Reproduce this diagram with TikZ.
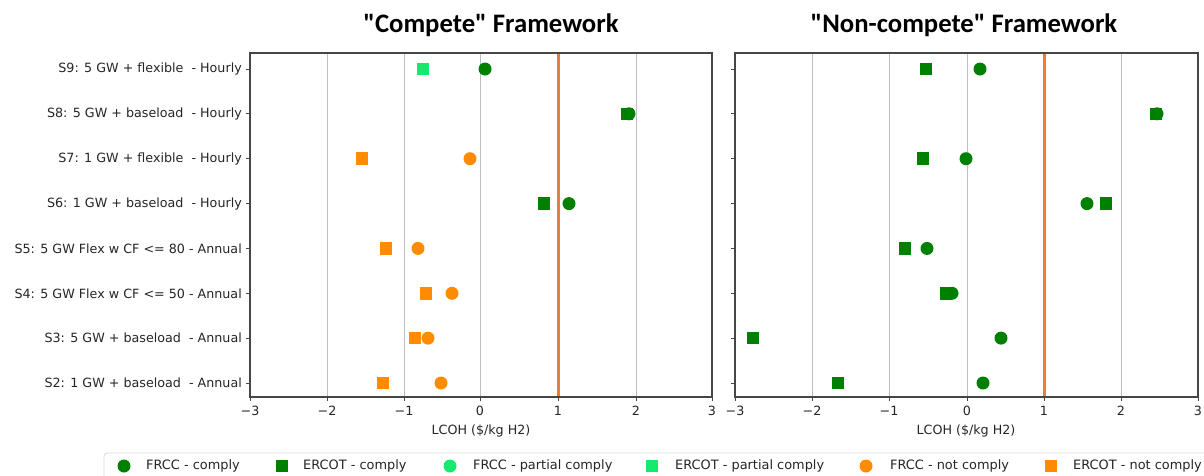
\documentclass[tikz,border=0pt]{standalone}
\usepackage{fontspec}
\setmainfont{DejaVu Sans}
\newfontfamily\titlefont{Carlito}
\definecolor{cgreen}{RGB}{0,128,0}
\definecolor{cpartial}{RGB}{20,235,110}
\definecolor{corange}{RGB}{255,140,0}
\definecolor{cline}{RGB}{237,125,49}
\definecolor{cgrid}{RGB}{190,190,190}
\definecolor{cspine}{RGB}{70,70,70}
\tikzset{
  mk/.style={inner sep=0pt, outer sep=0pt, draw=none},
  circ/.style={mk, circle, minimum size=13pt},
  sq/.style={mk, rectangle, minimum size=12.5pt},
  gc/.style={circ, fill=cgreen},
  gs/.style={sq, fill=cgreen},
  pc/.style={circ, fill=cpartial},
  ps/.style={sq, fill=cpartial},
  oc/.style={circ, fill=corange},
  os/.style={sq, fill=corange},
  gridline/.style={draw=cgrid, line width=1pt},
  spine/.style={draw=cspine, line width=1.1pt},
  tick/.style={draw=cspine, line width=0.9pt},
  ticklab/.style={font=\fontsize{12.7}{14}\selectfont, text=black!85, inner sep=0pt},
  ylab/.style={ticklab, anchor=east},
  xlab/.style={ticklab, anchor=north},
  refline/.style={draw=cline, line width=3pt},
  ttl/.style={font=\titlefont\bfseries\fontsize{26.7}{30}\selectfont, inner sep=0pt},
  legtext/.style={font=\fontsize{12.9}{15}\selectfont, text=black!85, anchor=west, inner sep=0pt},
}
\begin{document}
\begin{tikzpicture}[x=1pt, y=-1pt]
\useasboundingbox (0,0) rectangle (1204,475);
\fill[white] (0,0) rectangle (1204,475);

% titles
\node[ttl] (t1) at (491,25) {"Compete" Framework};
\node[ttl] (t2) at (964,25) {"Non-compete" Framework};

% ---------- left panel ----------
\foreach \x in {327,404,480,636} {\draw[gridline] (\x,53) -- (\x,397);}
\draw[refline] (558,53) -- (558,397);
% right panel grid
\foreach \x in {812,889,967,1121} {\draw[gridline] (\x,53) -- (\x,397);}
\draw[refline] (1044,53) -- (1044,397);

% y ticks & labels
\foreach \y/\lab in {69/{S9: 5 GW + flexible\ \ - Hourly},
                     113.8/{S8: 5 GW + baseload\ \ - Hourly},
                     158.7/{S7: 1 GW + flexible\ \ - Hourly},
                     203.6/{S6: 1 GW + baseload\ \ - Hourly},
                     248.4/{S5: 5 GW Flex w CF <= 80 - Annual},
                     293.3/{S4: 5 GW Flex w CF <= 50 - Annual},
                     338.1/{S3: 5 GW + baseload\ \ - Annual},
                     383/{S2: 1 GW + baseload\ \ - Annual}} {
  \draw[tick] (246,\y) -- (250,\y);
  \node[ylab] at (242,\y) {\lab};
  \draw[tick] (731,\y) -- (735,\y);
}

% x ticks & labels
\foreach \x/\lab in {250/−3,327/−2,404/−1,480/0,558/1,636/2,712/3} {
  \draw[tick] (\x,397) -- (\x,401);
  \node[xlab] at (\x,406) {\lab};
}
\foreach \x/\lab in {735/−3,812/−2,889/−1,967/0,1044/1,1121/2,1198/3} {
  \draw[tick] (\x,397) -- (\x,401);
  \node[xlab] at (\x,406) {\lab};
}
\node[xlab] (xl1) at (481,425) {LCOH (\$/kg H2)};
\node[xlab] (xl2) at (966,425) {LCOH (\$/kg H2)};

% ---------- left data ----------
\node[gc] (L9c) at (485,69) {};
\node[ps] (L9s) at (423,69) {};
\node[gc] (L8c) at (629,113.8) {};
\node[gs] (L8s) at (627,113.8) {};
\node[oc] (L7c) at (470,158.7) {};
\node[os] (L7s) at (362,158.7) {};
\node[gc] (L6c) at (569,203.6) {};
\node[gs] (L6s) at (544,203.6) {};
\node[oc] (L5c) at (418,248.4) {};
\node[os] (L5s) at (386,248.4) {};
\node[oc] (L4c) at (452,293.3) {};
\node[os] (L4s) at (426,293.3) {};
\node[oc] (L3c) at (428,338.1) {};
\node[os] (L3s) at (415,338.1) {};
\node[oc] (L2c) at (441,383) {};
\node[os] (L2s) at (383,383) {};

% ---------- right data ----------
\node[gc] (R9c) at (980,69) {};
\node[gs] (R9s) at (926,69) {};
\node[gc] (R8c) at (1157,113.8) {};
\node[gs] (R8s) at (1156,113.8) {};
\node[gc] (R7c) at (966,158.7) {};
\node[gs] (R7s) at (923,158.7) {};
\node[gc] (R6c) at (1087,203.6) {};
\node[gs] (R6s) at (1106,203.6) {};
\node[gc] (R5c) at (927,248.4) {};
\node[gs] (R5s) at (905,248.4) {};
\node[gc] (R4c) at (952,293.3) {};
\node[gs] (R4s) at (946,293.3) {};
\node[gc] (R3c) at (1001,338.1) {};
\node[gs] (R3s) at (753,338.1) {};
\node[gc] (R2c) at (983,383) {};
\node[gs] (R2s) at (838,383) {};

% spines
\draw[spine] (250,53) rectangle (712,397);
\draw[spine] (735,53) rectangle (1198,397);

% legend
\draw[draw=black!15, line width=0.8pt, rounded corners=3pt, fill=white] (104,453) rectangle (1215,490);
\node[gc] (k1) at (124,466) {};
\node[legtext] (k1t) at (146,466) {FRCC - comply};
\node[gs] (k2) at (282,466) {};
\node[legtext] (k2t) at (303,466) {ERCOT - comply};
\node[pc] (k3) at (450,466) {};
\node[legtext] (k3t) at (473,466) {FRCC - partial comply};
\node[ps] (k4) at (652,466) {};
\node[legtext] (k4t) at (675,466) {ERCOT - partial comply};
\node[oc] (k5) at (866,466) {};
\node[legtext] (k5t) at (890,466) {FRCC - not comply};
\node[os] (k6) at (1051,466) {};
\node[legtext] (k6t) at (1073,466) {ERCOT - not comply};
\end{tikzpicture}
\end{document}
